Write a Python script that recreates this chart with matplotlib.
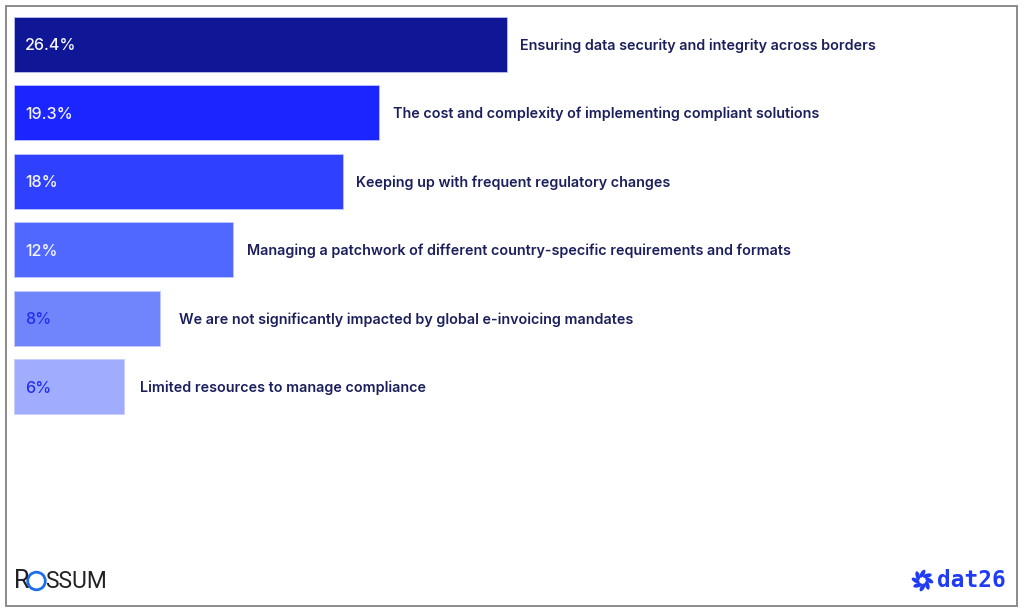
import numpy as np
import matplotlib
matplotlib.use('Agg')
import matplotlib.pyplot as plt
from matplotlib.patches import Rectangle, Ellipse, Circle

#===data===
categories = ['Ensuring data security and integrity across borders',
              'The cost and complexity of implementing compliant solutions',
              'Keeping up with frequent regulatory changes',
              'Managing a patchwork of different country-specific requirements and formats',
              'We are not significantly impacted by global e-invoicing mandates',
              'Limited resources to manage compliance']
value_labels = ['26.4%', '19.3%', '18%', '12%', '8%', '6%']
bar_lengths = [27, 20, 18, 12, 8, 6]   #the drawn bars are rounded, not the printed numbers

bar_colors = ['#0f1796', '#1a25ff', '#2f40ff', '#5068ff', '#7084fb', '#a0adff']
value_colors = ['#f4f5ff', '#f4f5ff', '#f4f5ff', '#f4f5ff', '#2430f0', '#2430f0']
label_gaps = [0.72, 0.72, 0.72, 0.78, 1.04, 0.88]  #gap bar end -> text, in x units

W, H = 1024, 615
plt.rcParams['font.family'] = ['Inter', 'DejaVu Sans']

fig = plt.figure(figsize=(W/100, H/100), dpi=100, facecolor='white')

#Overlay in pixel coordinates for the frame and the logos
bg = fig.add_axes([0, 0, 1, 1])
bg.set_xlim(0, W)
bg.set_ylim(H, 0)
bg.axis('off')
bg.add_patch(Rectangle((5.5, 5.5), 1011, 600, fill=False, edgecolor='#8a8a8a', linewidth=1.4))

#Chart axes: 18.27 px per unit, 68.5 px per bar
ax = fig.add_axes([14/W, 1-421/H, 1000/W, 411/H])
ax.patch.set_alpha(0)
ax.set_xlim(0, 1000/18.27)
ax.set_ylim(5.5, -0.5)
ax.axis('off')

y = np.arange(len(categories))
ax.barh(y, bar_lengths, height=0.8, color=bar_colors, edgecolor='#c5ccff', linewidth=0.5)

for i in range(len(categories)):
    ax.text(0.62, i+0.025, value_labels[i], color=value_colors[i], fontsize=11.6,
            fontweight='medium', va='center', ha='left')
    ax.text(bar_lengths[i]+label_gaps[i], i+0.015, categories[i], color='#1b1f5c', fontsize=10.32,
            fontweight='semibold', va='center', ha='left')

#ROSSUM logo
bg.text(14, 581, 'R', fontsize=18, color='#222226', va='center', ha='left', family='Roboto')
bg.add_patch(Circle((36.5, 581), 8.8, fill=False, edgecolor='#1b6fe8', linewidth=2.0))
bg.text(45.5, 581, 'SSUM', fontsize=16.5, color='#222226', va='center', ha='left', family='Roboto')

#dat26 logo
cx, cy = 922.5, 580.5
for ang in np.arange(0, 360, 45):
    a = np.deg2rad(ang)
    bg.add_patch(Ellipse((cx+6.8*np.cos(a), cy+6.8*np.sin(a)), 9, 4.2, angle=ang+30,
                         color='#1f3bf5', linewidth=0))
bg.text(937.5, 580.5, 'dat26', fontsize=16.4, color='#1f3bf5', va='center', ha='left',
        fontweight='bold', family=['DejaVu Sans Mono', 'DejaVu Sans'])

fig.savefig('out.png', dpi=100)
